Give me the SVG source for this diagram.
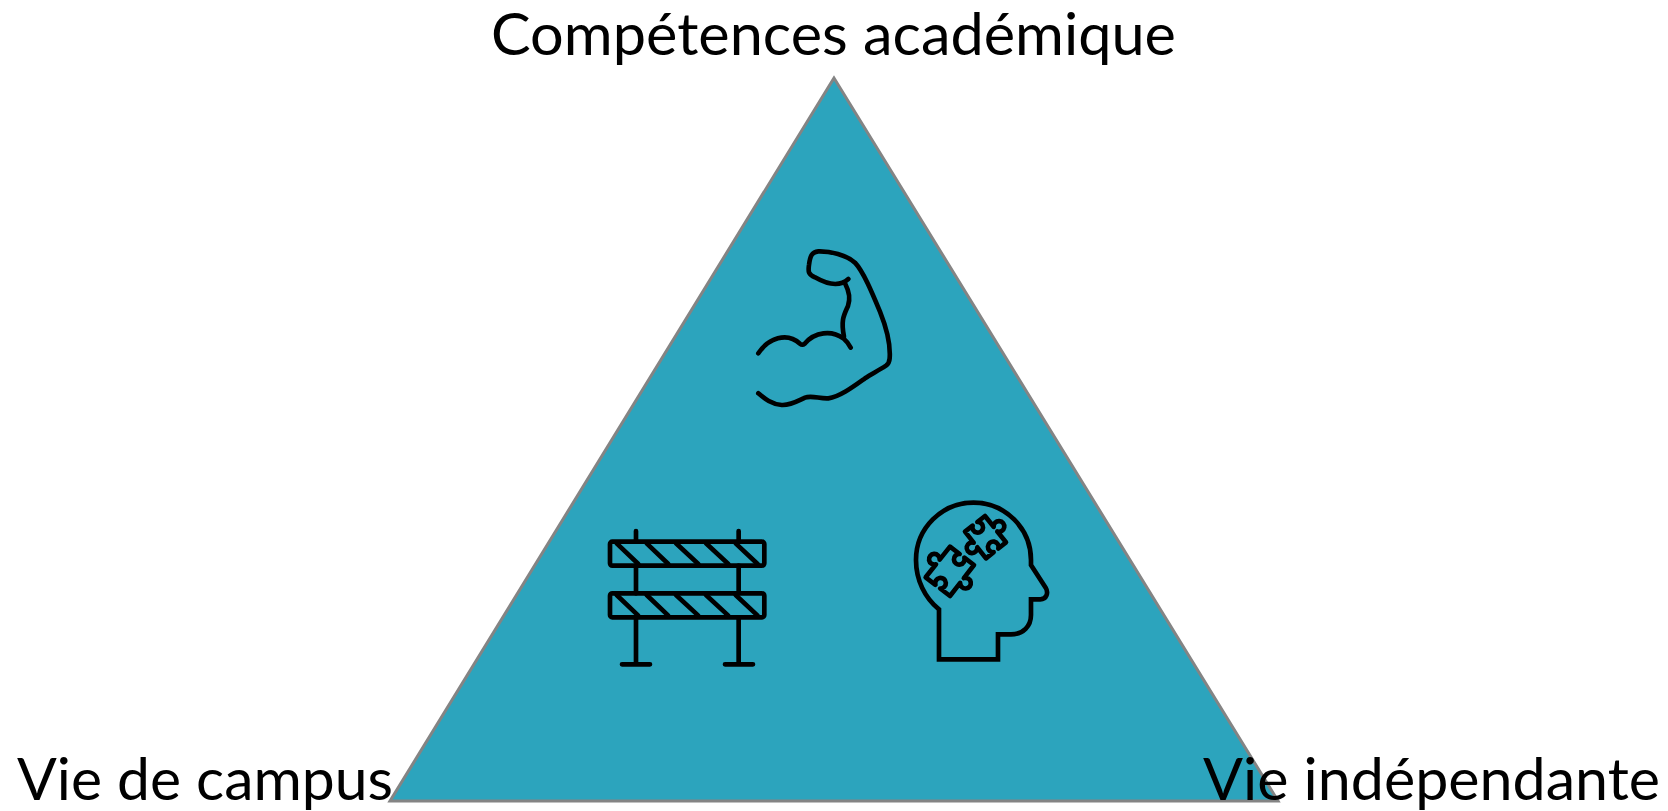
<svg xmlns="http://www.w3.org/2000/svg" width="1668" height="811" viewBox="0 0 1668 811">
<style>
.t{font-family:"Lato","Liberation Sans",sans-serif;font-size:59px;fill:#000}
.i{fill:none;stroke:#000;stroke-width:14;stroke-linecap:round;stroke-linejoin:round}
.m{stroke-linejoin:miter;stroke-linecap:butt}
</style>
<rect width="1668" height="811" fill="#fff"/>
<g id="triangle"><polygon points="834,78 390,801 1278,801" fill="#2ca4bd" stroke="#848484" stroke-width="3"/></g>
<g id="icon-muscle" transform="translate(740,240) scale(.3333)">
<path class="i" d="M55,340C85,295 140,275 180,311Q187,317 194,311C225,275 275,270 310,295Q322,305 332,323"/>
<path class="i" d="M325,117C300,140 265,135 225,112C205,103 204,95 207,75C210,50 215,35 235,34C270,33 320,45 345,68C370,95 395,155 420,215C440,265 452,315 449,355Q448,370 438,377C415,392 395,402 375,415C340,440 300,470 265,475C240,477 215,465 195,473C175,482 150,497 125,495C95,493 75,477 55,460"/>
<path class="i" d="M316,132C328,155 332,175 324,198C312,225 302,240 312,290"/>
</g>
<g id="icon-barrier" transform="translate(600,520) scale(.3333)">
<rect class="i" x="30" y="65" width="463" height="72" rx="7"/>
<rect class="i" x="30" y="220" width="463" height="72" rx="7"/>
<path class="i" d="M108,33V65M416,33V65M108,137V220M416,137V220M108,292V433M416,292V433M66,433H150M375,433H459"/>
<path class="i" d="M50,70L115,132M140,70L205,132M228,70L295,132M318,70L385,132M407,70L473,132M50,225L115,287M140,225L205,287M228,225L295,287M318,225L385,287M407,225L473,287"/>
</g>
<g id="icon-head" transform="translate(905,490) scale(.3333)">
<path class="i m" d="M102,508H279V433H318C355,433 378,408 378,375V328H406C425,328 431,308 422,293L378,225V210A172.500,172 0 0 0 33,210C33,270 60,325 102,358Z" transform="translate(0,0)"/>
<path class="i" d="M240,78L266,110.500A16,16 0 1 1 277,124.500L303,157L280,175.400A16,16 0 1 0 266,186.600L243,205L217,172A16,16 0 1 1 206,158L180,125L203,107A16,16 0 1 0 217,96Z"/>
<path class="i" d="M135,170L164,192A16,16 0 1 0 178,203L207,225L176.500,264.400A16,16 0 1 1 165.500,278.600L135,318L105.600,295.500A16,16 0 1 0 91.400,284.500L62,262L93,223A16,16 0 1 1 104,209Z"/>
</g>
<g id="labels">
<text class="t" x="491" y="55" textLength="685" lengthAdjust="spacingAndGlyphs">Compétences académique</text>
<text class="t" x="17" y="800" textLength="376" lengthAdjust="spacingAndGlyphs">Vie de campus</text>
<text class="t" x="1203" y="800" textLength="457" lengthAdjust="spacingAndGlyphs">Vie indépendante</text>
</g>
</svg>
